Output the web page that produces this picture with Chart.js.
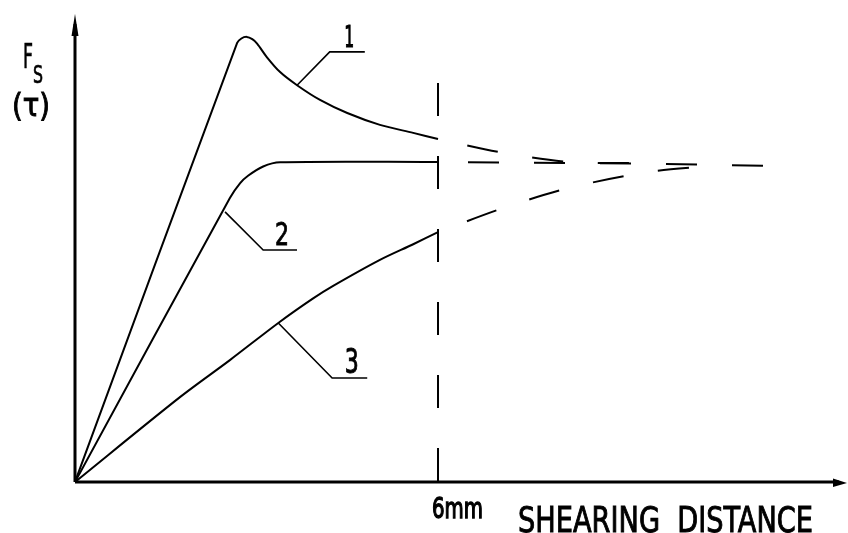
<!DOCTYPE html>
<html>
<head>
<meta charset="utf-8">
<script src="https://cdn.jsdelivr.net/npm/chart.js@4"></script>
<style>
  html, body { margin: 0; padding: 0; background: #fff; }
  #wrap { width: 848px; height: 533px; }
</style>
</head>
<body>
<div id="wrap"><canvas id="grafica" width="848" height="533"></canvas></div>
<script>
// shearing distance in mm, force relative to the steady value (plateau = 1)
const curva1 = [[0, 0], [2.68, 1.372], [2.75, 1.386], [2.84, 1.391], [2.93, 1.384], [3.01, 1.370],
    [3.17, 1.328], [3.39, 1.281], [3.67, 1.240], [4.05, 1.194], [4.50, 1.153],
    [5.04, 1.116], [5.59, 1.091], [6.0, 1.072]];
const curva2 = [[0, 0], [2.56, 0.8875], [2.73, 0.934], [2.86, 0.957], [3.11, 0.986], [3.39, 0.999], [6.0, 1.0]];
const curva3 = [[0, 0], [1.74, 0.266], [2.56, 0.381], [3.36, 0.497], [3.93, 0.573], [4.26, 0.612],
    [5.04, 0.694], [5.59, 0.743], [6.0, 0.781]];

// dashed continuation beyond 6 mm
const extension1 = [[6.0, 1.072], [7.02, 1.031], [8.18, 1.0], [9.50, 0.997]];
const extension2 = [[6.0, 1.0], [9.50, 0.995], [11.52, 0.9875]];
const extension3 = [[6.0, 0.781], [7.12, 0.859], [8.23, 0.922], [9.50, 0.969], [10.5, 0.9875]];

// 6 mm marker
const marca6mm = [[6.0, 1.247], [6.0, 0]];

// leader lines: tip on curve, elbow, end of underline
const guia1 = [[3.67, 1.240], [4.21, 1.344], [4.79, 1.344]];
const guia2 = [[2.48, 0.844], [3.11, 0.725], [3.67, 0.725]];
const guia3 = [[3.36, 0.497], [4.25, 0.325], [4.83, 0.325]];

const etiquetas = ["1", "2", "3"];
const ejeXMax = 12.76;
const ejeYMax = 1.4625;

const fuente = '"Liberation Sans Narrow", "DejaVu Sans Condensed", "Roboto Condensed", sans-serif';

function puntos(arr) {
    return arr.map(p => ({ x: p[0], y: p[1] }));
}

function serie(arr, ancho, tension, dash, offset) {
    return {
        data: puntos(arr),
        borderColor: '#000',
        borderWidth: ancho,
        borderDash: dash || [],
        borderDashOffset: offset || 0,
        pointRadius: 0,
        tension: tension,
        fill: false
    };
}

// draws text squeezed/stretched to an exact box (left, baseline, width)
function textoAjustado(ctx, str, x, y, w, size, grosor) {
    ctx.save();
    ctx.font = size + 'px ' + fuente;
    const m = ctx.measureText(str).width;
    ctx.translate(x, y);
    ctx.scale(w / m, 1);
    ctx.lineWidth = grosor || 0.9;
    ctx.fillText(str, 0, 0);
    ctx.strokeText(str, 0, 0);
    ctx.restore();
}

const dibujoExtra = {
    id: 'dibujoExtra',
    afterDraw(chart) {
        const ctx = chart.ctx;
        const a = chart.chartArea;
        ctx.save();
        ctx.strokeStyle = '#000';
        ctx.fillStyle = '#000';
        ctx.lineWidth = 3;
        // axes
        ctx.beginPath();
        ctx.moveTo(a.left, a.bottom);
        ctx.lineTo(a.left, a.top + 10);
        ctx.moveTo(a.left, a.bottom);
        ctx.lineTo(a.right - 8, a.bottom);
        ctx.stroke();
        // arrow heads
        ctx.beginPath();
        ctx.moveTo(a.left, a.top);
        ctx.lineTo(a.left - 3.5, a.top + 22);
        ctx.lineTo(a.left + 3.5, a.top + 22);
        ctx.closePath();
        ctx.fill();
        ctx.beginPath();
        ctx.moveTo(a.right, a.bottom + 1);
        ctx.lineTo(a.right - 14, a.bottom - 3.5);
        ctx.lineTo(a.right - 14, a.bottom + 5);
        ctx.closePath();
        ctx.fill();

        // curve numbers, placed from the leader underline ends
        const xs = chart.scales.x, ys = chart.scales.y;
        const guias = [guia1, guia2, guia3];
        const tam = [[10, 31], [14, 32], [14, 34]];
        guias.forEach((g, i) => {
            const e = g[1], f = g[2];
            const cx = (xs.getPixelForValue(e[0]) + xs.getPixelForValue(f[0])) / 2;
            const by = ys.getPixelForValue(e[1]) - 5;
            textoAjustado(ctx, etiquetas[i], cx - tam[i][0] / 2 + 2, by, tam[i][0], tam[i][1]);
        });

        // axis titles
        textoAjustado(ctx, 'F', 23, 68, 10, 34, 0.7);
        textoAjustado(ctx, 'S', 33, 83, 10, 25, 0.7);
        textoAjustado(ctx, '(τ)', 12, 116, 38, 32);
        textoAjustado(ctx, '6mm', 432, 518, 51, 29, 1.3);
        textoAjustado(ctx, 'SHEARING  DISTANCE', 518, 532, 295, 35);
        ctx.restore();
    }
};

const config = {
    type: 'line',
    data: {
        datasets: [
            serie(curva1, 2, 0.3),
            serie(curva2, 2, 0.3),
            serie(curva3, 2, 0.3),
            serie(extension1, 2, 0.3, [31, 35], 36),
            serie(extension2, 2, 0, [31, 35], 36),
            serie(extension3, 2, 0.3, [31, 35], 35),
            serie(marca6mm, 2, 0, [33, 40], 0),
            serie(guia1, 1.6, 0),
            serie(guia2, 1.6, 0),
            serie(guia3, 1.6, 0)
        ]
    },
    options: {
        responsive: false,
        animation: false,
        layout: { padding: { left: 75, right: 1, top: 14, bottom: 51 } },
        plugins: { legend: { display: false }, tooltip: { enabled: false } },
        scales: {
            x: { type: 'linear', min: 0, max: ejeXMax, display: false },
            y: { type: 'linear', min: 0, max: ejeYMax, display: false }
        }
    },
    plugins: [dibujoExtra]
};

new Chart(document.getElementById('grafica'), config);
</script>
</body>
</html>
